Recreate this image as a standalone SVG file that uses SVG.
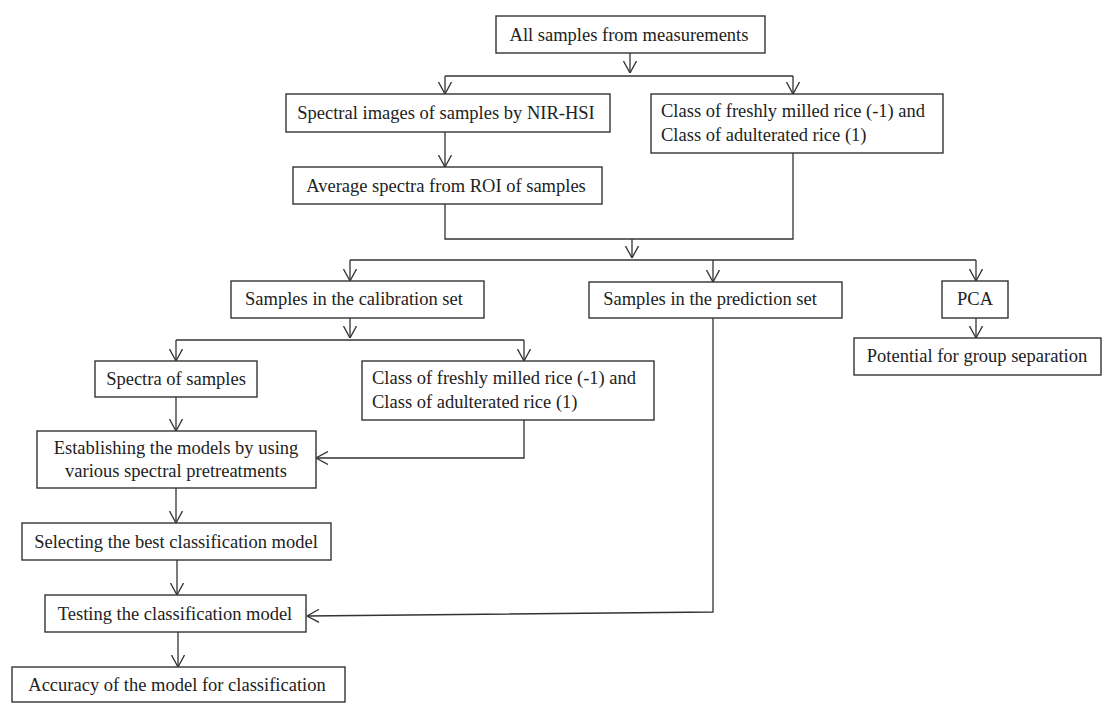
<svg xmlns="http://www.w3.org/2000/svg" width="1116" height="716" viewBox="0 0 1116 716">
<defs>
<marker id="arr" viewBox="0 0 12 14" refX="12" refY="7" markerWidth="12" markerHeight="14" markerUnits="userSpaceOnUse" orient="auto">
<polyline points="0,0.5 12,7 0,13.5" fill="none" stroke="#333" stroke-width="1.3"/>
</marker>
<style>
rect{fill:#fff;stroke:#333;stroke-width:1.4}
text{font-family:"Liberation Serif","Times New Roman",serif;font-size:18.5px;fill:#222}
.c{text-anchor:middle}
#connectors path{fill:none;stroke:#333;stroke-width:1.3}
.a{marker-end:url(#arr)}
</style>
</defs>
<rect x="0" y="0" width="1116" height="716" style="fill:#fff;stroke:none"/>
<g id="connectors">
<path class="a" d="M630,53 V73"/>
<path d="M445,76 H793"/>
<path class="a" d="M445,76 V94"/>
<path class="a" d="M793,76 V94"/>
<path class="a" d="M445,132 V167"/>
<path d="M445,204 V239 H793 V153"/>
<path class="a" d="M632,239 V258"/>
<path d="M350,260 H976"/>
<path class="a" d="M350,260 V281"/>
<path class="a" d="M713,260 V282"/>
<path class="a" d="M976,260 V281"/>
<path class="a" d="M976,318 V338"/>
<path class="a" d="M350,318 V338"/>
<path d="M176,340 H524"/>
<path class="a" d="M176,340 V361"/>
<path class="a" d="M524,340 V361"/>
<path class="a" d="M176,397 V431"/>
<path class="a" d="M524,420 V458 H316"/>
<path class="a" d="M176,488 V523"/>
<path class="a" d="M177,560 V595"/>
<path class="a" d="M713,318 V612 L307,616"/>
<path class="a" d="M178,632 V667"/>
</g>
<g id="n1"><rect x="496" y="16" width="269" height="37"/><text class="c" x="629" y="41">All samples from measurements</text></g>
<g id="n2"><rect x="286" y="94" width="324" height="38"/><text class="c" x="446" y="119">Spectral images of samples by NIR-HSI</text></g>
<g id="n3"><rect x="651" y="94" width="292" height="59"/><text x="661" y="117">Class of freshly milled rice (-1) and</text><text x="661" y="141">Class of adulterated rice (1)</text></g>
<g id="n4"><rect x="293" y="167" width="309" height="37"/><text class="c" x="446" y="192">Average spectra from ROI of samples</text></g>
<g id="n5"><rect x="231" y="281" width="253" height="37"/><text class="c" x="354" y="305">Samples in the calibration set</text></g>
<g id="n6"><rect x="589" y="282" width="253" height="36"/><text class="c" x="710" y="305">Samples in the prediction set</text></g>
<g id="n7"><rect x="942" y="281" width="66" height="37"/><text class="c" x="975" y="305">PCA</text></g>
<g id="n8"><rect x="854" y="338" width="247" height="37"/><text class="c" x="977" y="362">Potential for group separation</text></g>
<g id="n9"><rect x="95" y="361" width="162" height="36"/><text class="c" x="176" y="385">Spectra of samples</text></g>
<g id="n10"><rect x="362" y="361" width="292" height="59"/><text x="372" y="384">Class of freshly milled rice (-1) and</text><text x="372" y="408">Class of adulterated rice (1)</text></g>
<g id="n11"><rect x="37" y="431" width="279" height="57"/><text class="c" x="176" y="454">Establishing the models by using</text><text class="c" x="176" y="477">various spectral pretreatments</text></g>
<g id="n12"><rect x="22" y="523" width="309" height="37"/><text class="c" x="176" y="548">Selecting the best classification model</text></g>
<g id="n13"><rect x="45" y="595" width="261" height="37"/><text class="c" x="175" y="620">Testing the classification model</text></g>
<g id="n14"><rect x="12" y="667" width="333" height="35"/><text class="c" x="177" y="691">Accuracy of  the model for classification</text></g>
</svg>
